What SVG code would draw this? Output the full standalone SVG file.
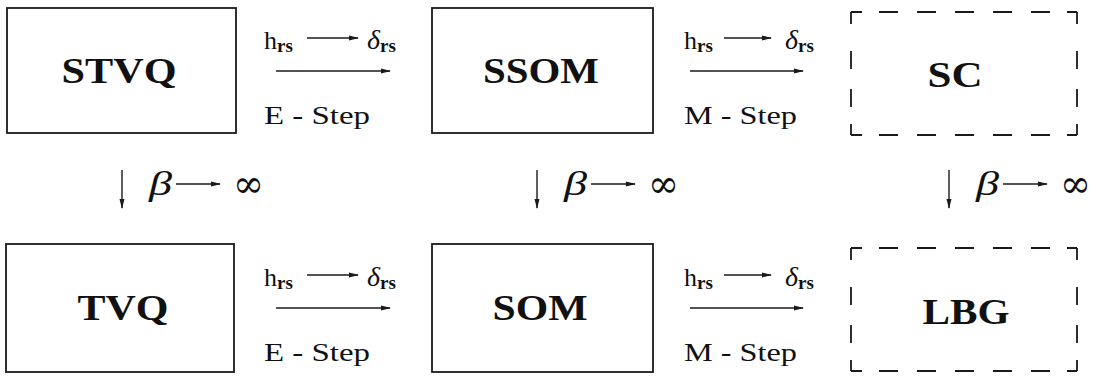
<svg xmlns="http://www.w3.org/2000/svg" width="1096" height="378" viewBox="0 0 1096 378">
<style>
.box{fill:none;stroke:#1a1a1a;stroke-width:1.8}
.dh{stroke:#1a1a1a;stroke-width:1.8;fill:none;stroke-dasharray:11 17 19 19 19 19 19 19 19 19 19 17 11}
.dv{stroke:#1a1a1a;stroke-width:1.8;fill:none;stroke-dasharray:12 27 18 20 18 17 12}
.nl{font-family:"Liberation Serif",serif;font-weight:bold;font-size:36px;fill:#111;text-anchor:middle}
.lb{font-family:"Liberation Serif",serif;font-size:26px;fill:#111}
.sub{font-family:"Liberation Serif",serif;font-weight:bold;font-size:19px}
.gr{font-family:"Liberation Serif",serif;font-style:italic;font-size:28px;fill:#111}
.beta{font-family:"Liberation Serif",serif;font-style:italic;font-size:34px;fill:#111}
.inf{font-family:"DejaVu Serif",serif;font-size:38px;fill:#111}
.ar{stroke:#1a1a1a;stroke-width:1.4;fill:none;marker-end:url(#ah)}
</style>
<defs>
<marker id="ah" viewBox="0 0 10 6" refX="9" refY="3" markerWidth="10" markerHeight="6" markerUnits="userSpaceOnUse" orient="auto">
<path d="M0,0.5 L10,3 L0,5.5 z" fill="#1a1a1a"/>
</marker>
</defs>

<g id="node-STVQ">
<rect class="box" x="7" y="8" width="229" height="125"/>
<text class="nl" x="119" y="83" textLength="115" lengthAdjust="spacingAndGlyphs">STVQ</text>
</g>
<g id="node-SSOM">
<rect class="box" x="432" y="8" width="221" height="125"/>
<text class="nl" x="541" y="83" textLength="116" lengthAdjust="spacingAndGlyphs">SSOM</text>
</g>
<g id="node-SC">
<line class="dh" x1="851" y1="12" x2="1077" y2="12"/>
<line class="dh" x1="851" y1="135" x2="1077" y2="135"/>
<line class="dv" x1="851" y1="12" x2="851" y2="135"/>
<line class="dv" x1="1077" y1="12" x2="1077" y2="135"/>
<text class="nl" x="955" y="87" textLength="55" lengthAdjust="spacingAndGlyphs">SC</text>
</g>
<g id="node-TVQ">
<rect class="box" x="6" y="244" width="228" height="128"/>
<text class="nl" x="123" y="320" textLength="91" lengthAdjust="spacingAndGlyphs">TVQ</text>
</g>
<g id="node-SOM">
<rect class="box" x="432" y="244" width="221" height="128"/>
<text class="nl" x="540" y="320" textLength="95" lengthAdjust="spacingAndGlyphs">SOM</text>
</g>
<g id="node-LBG">
<line class="dh" x1="851" y1="248" x2="1077" y2="248"/>
<line class="dh" x1="851" y1="371" x2="1077" y2="371"/>
<line class="dv" x1="851" y1="248" x2="851" y2="371"/>
<line class="dv" x1="1077" y1="248" x2="1077" y2="371"/>
<text class="nl" x="966" y="324" textLength="87" lengthAdjust="spacingAndGlyphs">LBG</text>
</g>

<g id="connectors">
<!-- top row E-step -->
<text class="lb" x="264" y="49">h<tspan class="sub" dy="3">rs</tspan></text>
<line class="ar" x1="307" y1="38" x2="358" y2="38"/>
<text class="gr" x="367" y="49">δ<tspan class="sub" font-style="normal" dy="3">rs</tspan></text>
<line class="ar" x1="276" y1="71" x2="390" y2="71"/>
<text class="lb" x="264" y="124" textLength="106" lengthAdjust="spacingAndGlyphs">E - Step</text>
<!-- top row M-step -->
<text class="lb" x="684" y="49">h<tspan class="sub" dy="3">rs</tspan></text>
<line class="ar" x1="724" y1="38" x2="771" y2="38"/>
<text class="gr" x="785" y="49">δ<tspan class="sub" font-style="normal" dy="3">rs</tspan></text>
<line class="ar" x1="690" y1="71" x2="803" y2="71"/>
<text class="lb" x="684" y="124" textLength="113" lengthAdjust="spacingAndGlyphs">M - Step</text>
<!-- bottom row E-step -->
<text class="lb" x="264" y="286">h<tspan class="sub" dy="3">rs</tspan></text>
<line class="ar" x1="307" y1="275" x2="358" y2="275"/>
<text class="gr" x="367" y="286">δ<tspan class="sub" font-style="normal" dy="3">rs</tspan></text>
<line class="ar" x1="276" y1="308" x2="390" y2="308"/>
<text class="lb" x="264" y="361" textLength="106" lengthAdjust="spacingAndGlyphs">E - Step</text>
<!-- bottom row M-step -->
<text class="lb" x="684" y="286">h<tspan class="sub" dy="3">rs</tspan></text>
<line class="ar" x1="724" y1="275" x2="771" y2="275"/>
<text class="gr" x="785" y="286">δ<tspan class="sub" font-style="normal" dy="3">rs</tspan></text>
<line class="ar" x1="690" y1="308" x2="803" y2="308"/>
<text class="lb" x="684" y="361" textLength="113" lengthAdjust="spacingAndGlyphs">M - Step</text>
<!-- vertical limits -->
<line class="ar" x1="122" y1="170" x2="122" y2="208"/>
<text class="beta" x="149" y="195" textLength="23" lengthAdjust="spacingAndGlyphs">β</text>
<line class="ar" x1="176" y1="184" x2="220" y2="184"/>
<text class="inf" x="233" y="197" textLength="31" lengthAdjust="spacingAndGlyphs">∞</text>

<line class="ar" x1="537" y1="170" x2="537" y2="208"/>
<text class="beta" x="564" y="195" textLength="23" lengthAdjust="spacingAndGlyphs">β</text>
<line class="ar" x1="591" y1="184" x2="635" y2="184"/>
<text class="inf" x="648" y="197" textLength="31" lengthAdjust="spacingAndGlyphs">∞</text>

<line class="ar" x1="949" y1="170" x2="949" y2="208"/>
<text class="beta" x="976" y="195" textLength="23" lengthAdjust="spacingAndGlyphs">β</text>
<line class="ar" x1="1003" y1="184" x2="1047" y2="184"/>
<text class="inf" x="1060" y="197" textLength="31" lengthAdjust="spacingAndGlyphs">∞</text>
</g>
</svg>
